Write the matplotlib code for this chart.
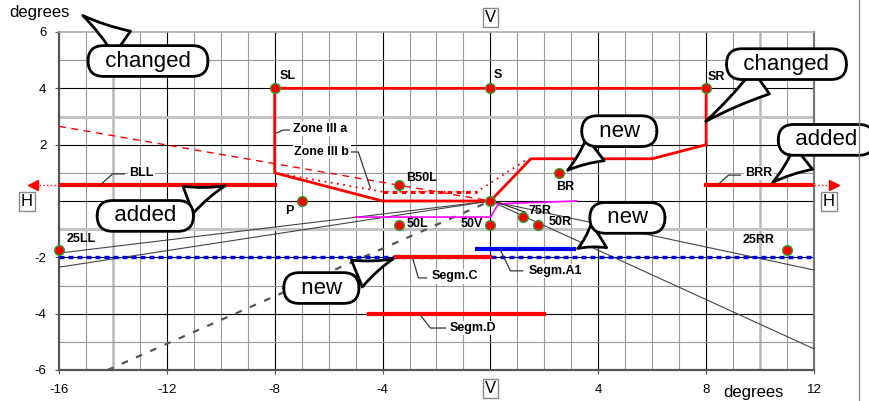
import matplotlib
matplotlib.use("Agg")
from matplotlib import pyplot as plt
from matplotlib.lines import Line2D

plt.rcParams['font.family'] = ['Liberation Sans', 'DejaVu Sans']
plt.rcParams['axes.unicode_minus'] = False

# main zone boundary (red solid)
zone_x = [-8, 0, 8, 8, 6, 1.5, 0, -4, -8, -8]
zone_y = [4, 4, 4, 2, 1.5, 1.5, 0, 0, 1, 4]

# zone III a (dashed) and zone III b (dotted)
zone3a_x = [-16, 0]
zone3a_y = [2.65, 0]
zone3b_x = [-8, -4, -0.5, 1.4]
zone3b_y = [1.0, 0.33, 0.33, 1.5]

# magenta cut-off
cut_x = [-5, 0, 0.3, 3.2]
cut_y = [-0.57, -0.57, -0.1, 0.0]

# thin grey lines through the centre
grey_lines = [
    ([-16, 0], [-1.85, 0]),
    ([-16, 0], [-2.35, 0]),
    ([0, 12], [0, -2.45]),
    ([0, 12], [0, -5.25]),
]
# dark dashed line
dash_x = [-14.2, 0]
dash_y = [-6, 0]

# segments
segA1_x, segA1_y = [-0.5, 3.1], [-1.7, -1.7]
segC_x, segC_y = [-3.5, 0], [-2, -2]
segD_x, segD_y = [-4.5, 2], [-4, -4]
bll_x, bll_y = [-16, -8], [0.57, 0.57]
brr_x, brr_y = [8, 12], [0.57, 0.57]
blue_x, blue_y = [-16, 12], [-2, -2]

# measuring points
pt_names = ['SL', 'S', 'SR', 'B50L', 'BR', 'P', '50L', '50V', '75R', '50R', '25LL', '25RR', '']
pt_x = [-8, 0, 8, -3.4, 2.55, -7, -3.4, 0, 1.2, 1.75, -16, 11, 0]
pt_y = [4, 4, 4, 0.57, 1.0, 0, -0.86, -0.86, -0.57, -0.86, -1.75, -1.75, 0]

fig = plt.figure(figsize=(8.7, 4.01), dpi=100)
ax = fig.add_axes([59/870, 31/401, 755/870, 338/401])
ax.set_xlim(-16, 12)
ax.set_ylim(-6, 6)

# grid
for x in range(-15, 12):
    if x % 4 == 0:
        ax.axvline(x, color='black', lw=0.8, zorder=1)
    elif x in (-14, 10):
        ax.axvline(x, color='#b8b8b8', lw=1.8, zorder=1)
    else:
        ax.axvline(x, color='#999999', lw=0.8, zorder=1)
for y in range(-5, 6):
    if y % 2 == 0:
        ax.axhline(y, color='black', lw=0.8, zorder=1)
    elif y in (3, -1):
        ax.axhline(y, color='#c4c4c4', lw=2.2, zorder=1)
    else:
        ax.axhline(y, color='#999999', lw=0.8, zorder=1)

for s in ['left', 'bottom']:
    ax.spines[s].set_color('#555555')
    ax.spines[s].set_linewidth(1.6)
ax.spines['right'].set_color('#777777')
ax.spines['right'].set_linewidth(1.6)
ax.spines['top'].set_color('#aaaaaa')
ax.spines['top'].set_linewidth(1.2)

ax.set_xticks([-16, -12, -8, -4, 4, 8, 12])
ax.set_yticks([-6, -4, -2, 2, 4, 6])
ax.tick_params(axis='both', labelsize=9.5, length=3, color='#555555')
ax.tick_params(axis='x', pad=7)
ax.tick_params(axis='y', pad=6)

# lines
for lx, ly in grey_lines:
    ax.plot(lx, ly, color='#444444', lw=0.8, zorder=3)
ax.plot(dash_x, dash_y, color='#555555', lw=1.6, dashes=(3, 4), zorder=3)
ax.plot(blue_x, blue_y, color='#0000ee', lw=2.4, dashes=(1.5, 1.2), zorder=3)
ax.plot(zone3a_x, zone3a_y, color='red', lw=1, dashes=(5, 4), zorder=4)
ax.plot(zone3b_x, zone3b_y, color='red', lw=1.3, dashes=(1, 2.5), zorder=4)
ax.plot(zone3b_x[1:3], zone3b_y[1:3], color='red', lw=2.2, dashes=(1.5, 1.5), zorder=4)
ax.plot(cut_x, cut_y, color='#ff00ff', lw=1.2, zorder=4)
ax.plot(zone_x, zone_y, color='red', lw=2, zorder=5)
ax.plot(segA1_x, segA1_y, color='#0000ee', lw=3, zorder=5)
ax.plot(segC_x, segC_y, color='red', lw=3, zorder=5)
ax.plot(segD_x, segD_y, color='red', lw=3, zorder=5)
ax.plot(bll_x, bll_y, color='red', lw=3, zorder=5)
ax.plot(brr_x, brr_y, color='red', lw=3, zorder=5)

# dotted arrows beyond the frame
ax.plot([-16, -16.8], [0.57, 0.57], color='red', lw=1, ls=':', clip_on=False)
ax.plot([-16.95], [0.57], marker='<', color='red', ms=7, clip_on=False)
ax.plot([12, 12.6], [0.57, 0.57], color='red', lw=1, ls=':', clip_on=False)
ax.plot([12.75], [0.57], marker='>', color='red', ms=7, clip_on=False)

# points
ax.plot(pt_x, pt_y, 'o', color='red', ms=7, mec='#2ca02c', mew=1, zorder=7, clip_on=False)

offsets = {'SL': (5, 12, 'left'), 'S': (3, 13, 'left'), 'SR': (2, 11, 'left'),
           'B50L': (7, 7, 'left'), 'BR': (6, -14, 'center'), 'P': (-12, -10, 'center'),
           '50L': (8, 1, 'left'), '50V': (-7, 1, 'right'), '75R': (6, 6, 'left'),
           '50R': (11, 3, 'left'), '25LL': (8, 11, 'left'), '25RR': (-28, 10, 'center')}
for name, x, y in zip(pt_names, pt_x, pt_y):
    if not name:
        continue
    dx, dy, ha = offsets[name]
    ax.annotate(name, (x, y), xytext=(dx, dy), textcoords='offset pixels',
                ha=ha, va='center', fontsize=9, fontweight='bold', zorder=8)

# labels with leaders
leaders = [
    ('BLL', [-14.47, -14.02, -13.58], [0.57, 0.96, 0.96], -13.39, 0.99),
    ('BRR', [8.46, 8.83, 9.27], [0.6, 0.92, 0.92], 9.46, 0.99),
    ('Zone III a', [-7.94, -7.68, -7.46], [2.41, 2.52, 2.52], -7.31, 2.56),
    ('Zone III b', [-5.19, -4.9, -4.45], [1.74, 1.74, 0.46], -7.27, 1.74),
    ('Segm.C', [-2.89, -2.67, -2.37], [-2.02, -2.73, -2.73], -2.19, -2.68),
    ('Segm.A1', [0.37, 0.74, 1.19], [-1.74, -2.48, -2.48], 1.41, -2.48),
    ('Segm.D', [-2.6, -2.23, -1.67], [-4.05, -4.51, -4.51], -1.52, -4.51),
]
for txt, lx, ly, tx, ty in leaders:
    ax.plot(lx, ly, color='#333333', lw=0.9, zorder=6)
    ax.text(tx, ty, txt, ha='left', va='center', fontsize=9, fontweight='bold', zorder=8,
            bbox=dict(boxstyle='square,pad=0.1', fc='white', ec='none'))
ax.plot([0.2, 1.3], [-0.03, -0.4], color='#222222', lw=0.8, zorder=6)

# axis boxes and titles
box = dict(boxstyle='square,pad=0.12', fc='white', ec='#888888', lw=1)
for x, y, t in [(-17.2, 0, 'H'), (12.55, 0, 'H'), (0, 6.53, 'V'), (0, -6.64, 'V')]:
    ax.text(x, y, t, ha='center', va='center', fontsize=12, bbox=box, clip_on=False, zorder=9)
fig.text(9/870, 1 - 13/401, 'degrees', ha='left', va='center', fontsize=12)
fig.text(723/870, 1 - 393/401, 'degrees', ha='left', va='center', fontsize=12)

# speech bubbles
bubbles = [
    ('changed', (-15.2, 6.64), (-12.7, 4.97)),
    ('changed', (7.9, 2.77), (10.98, 4.86)),
    ('new', (2.78, 1.03), (4.78, 2.48)),
    ('added', (10.39, 0.6), (12.46, 2.17)),
    ('new', (3.15, -1.74), (5.08, -0.6)),
    ('added', (-9.75, 0.57), (-12.8, -0.53)),
    ('new', (-3.52, -2.02), (-6.27, -3.09)),
]
for txt, tip, pos in bubbles:
    ax.annotate('  ' + txt + '  ', xy=tip, xytext=pos, ha='center', va='center', fontsize=16,
                bbox=dict(boxstyle='round,pad=0.22,rounding_size=0.7', fc='white', ec='black', lw=2),
                arrowprops=dict(arrowstyle='wedge,tail_width=1.3,shrink_factor=0.4',
                                fc='white', ec='black', lw=2),
                annotation_clip=False, zorder=10)

# page edge on the right
fig.add_artist(Line2D([859/870, 859/870], [0, 1], color='#888888', lw=1))

fig.savefig('out.png', dpi=100)
